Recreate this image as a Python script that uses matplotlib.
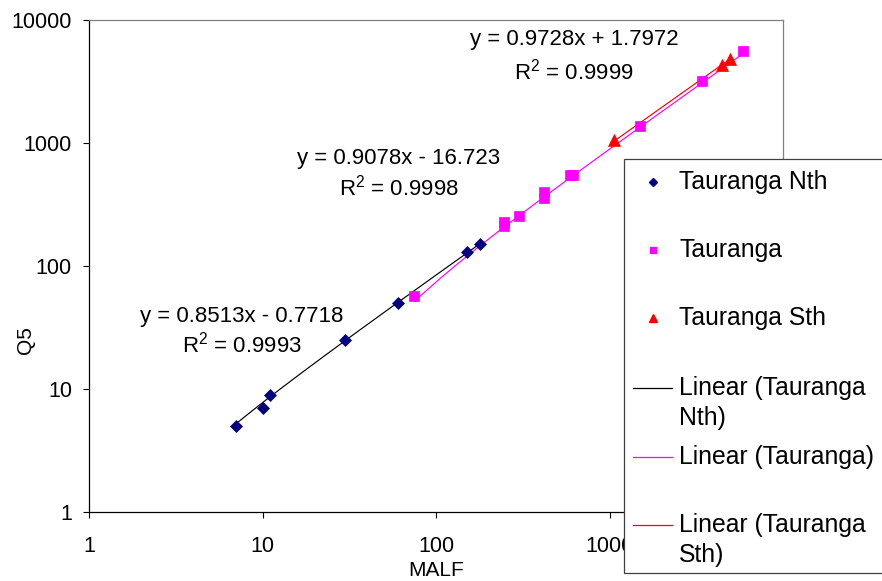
import numpy as np
import matplotlib
matplotlib.use("Agg")
import matplotlib.pyplot as plt
from matplotlib.lines import Line2D
from matplotlib.patches import Rectangle

plt.rcParams['font.family'] = ['Liberation Sans', 'DejaVu Sans']
plt.rcParams['mathtext.fontset'] = 'custom'
plt.rcParams['mathtext.rm'] = 'Liberation Sans'
plt.rcParams['mathtext.it'] = 'Liberation Sans:italic'
plt.rcParams['mathtext.bf'] = 'Liberation Sans:bold'

# MALF against Q5 for the three Tauranga groups
nth_malf = [7, 10, 11, 30, 60, 150, 180]
nth_q5 = [5, 7, 9, 25, 50, 130, 150]
mid_malf = [75, 245, 245, 300, 420, 420, 590, 615, 1490, 3400, 5900]
mid_q5 = [57, 230, 210, 255, 400, 360, 550, 550, 1380, 3200, 5600]
sth_malf = [1065, 4450, 4950]
sth_q5 = [1050, 4340, 4810]

# linear trendlines: slope, intercept, R^2
nth_fit = (0.8513, -0.7718, 0.9993)
mid_fit = (0.9078, -16.723, 0.9998)
sth_fit = (0.9728, 1.7972, 0.9999)

series_names = ['Tauranga Nth', 'Tauranga', 'Tauranga Sth']
x_ticks = [1, 10, 100, 1000, 10000]
y_ticks = [1, 10, 100, 1000, 10000]

NAVY, MAGENTA, RED = '#000080', '#FF00FF', '#FF0000'

W, H = 882, 581
fig = plt.figure(figsize=(W / 100, H / 100), dpi=100)


def fx(px):
    return px / W


def fy(py):
    return 1 - py / H


ax = fig.add_axes([fx(89), fy(512), (783 - 89) / W, (512 - 20) / H])
ax.set_xscale('log')
ax.set_yscale('log')
ax.set_xlim(1, 10000)
ax.set_ylim(1, 10000)
ax.set_xticks(x_ticks, labels=[str(t) for t in x_ticks])
ax.set_yticks(y_ticks, labels=[str(t) for t in y_ticks])
ax.minorticks_off()
ax.tick_params(axis='both', direction='out', length=4.3, width=0.8,
               labelsize=15.5, color='#000000')
ax.tick_params(axis='x', pad=13)
ax.tick_params(axis='y', pad=8)
for side in ('left', 'bottom'):
    ax.spines[side].set_color('#000000')
    ax.spines[side].set_linewidth(0.9)
for side in ('top', 'right'):
    ax.spines[side].set_color('#808080')
    ax.spines[side].set_linewidth(0.9)


def trend(xs, fit, color):
    m, b, _ = fit
    xx = np.geomspace(min(xs), max(xs), 300)
    ax.plot(xx, m * xx + b, color=color, lw=0.85, zorder=2)


trend(nth_malf, nth_fit, '#000000')
trend(mid_malf, mid_fit, MAGENTA)
trend(sth_malf, sth_fit, RED)

ax.plot(nth_malf, nth_q5, ls='none', marker='D', ms=6.0, color=NAVY,
        mec=NAVY, mew=0.5, zorder=3)
ax.plot(mid_malf, mid_q5, ls='none', marker='s', ms=7.0, color=MAGENTA,
        mec=MAGENTA, mew=0.5, zorder=3)
ax.plot(sth_malf, sth_q5, ls='none', marker='^', ms=8, color=RED,
        mec=RED, mew=0.5, zorder=3)


def fit_label(cx, cy1, cy2, fit):
    m, b, r2 = fit
    sign = '+' if b >= 0 else '-'
    fig.text(fx(cx), fy(cy1), f'y = {m:.4f}x {sign} {abs(b):g}',
             ha='center', va='center', fontsize=16)
    fig.text(fx(cx), fy(cy2), f'R$^2$ = {r2:.4f}',
             ha='center', va='center', fontsize=16)


fit_label(574, 39, 72, sth_fit)
fit_label(399, 158, 188, mid_fit)
fit_label(242, 316, 345, nth_fit)

fig.text(fx(26), fy(340), 'Q5', rotation=90, ha='center', va='center',
         fontsize=15)
fig.text(fx(436), fy(570), 'MALF', ha='center', va='center', fontsize=15)

# legend box, partly running off the right edge
fig.add_artist(Rectangle((fx(624), fy(573)), fx(400), (573 - 159) / H,
                         transform=fig.transFigure, facecolor='white',
                         edgecolor='#404040', lw=0.9, zorder=5))

leg_font = 17.8
marker_rows = [('D', 4.0, NAVY, 182), ('s', 5.0, MAGENTA, 250),
               ('^', 5.8, RED, 318)]
for (mk, ms, col, py), name in zip(marker_rows, series_names):
    fig.add_artist(Line2D([fx(653)], [fy(py)], transform=fig.transFigure,
                          ls='none', marker=mk, ms=ms, color=col, mec=col,
                          zorder=6))
    fig.text(fx(679), fy(py), name, ha='left', va='center',
             fontsize=leg_font, zorder=6)

line_rows = [('#000000', [f'Linear ({series_names[0].split()[0]}',
                          f'{series_names[0].split()[1]})'], 388),
             (MAGENTA, [f'Linear ({series_names[1]})'], 457),
             (RED, [f'Linear ({series_names[2].split()[0]}',
                    f'{series_names[2].split()[1]})'], 525)]
for col, lines, py in line_rows:
    fig.add_artist(Line2D([fx(633), fx(672)], [fy(py), fy(py)],
                          transform=fig.transFigure, color=col, lw=0.9,
                          zorder=6))
    for i, txt in enumerate(lines):
        fig.text(fx(679), fy(py + 30 * i), txt, ha='left', va='center',
                 fontsize=leg_font, zorder=6)

fig.savefig('out.png', dpi=100)
